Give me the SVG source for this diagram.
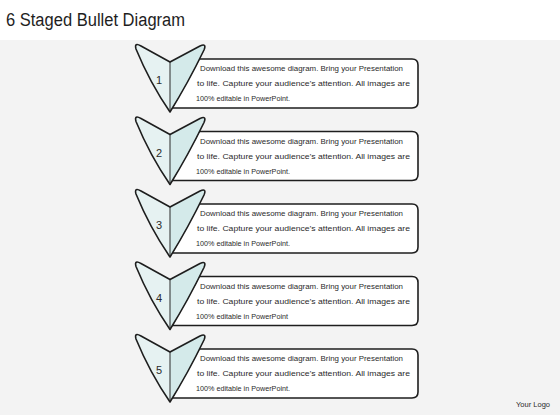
<svg xmlns="http://www.w3.org/2000/svg" xmlns:xlink="http://www.w3.org/1999/xlink" width="560" height="420" viewBox="0 0 560 420">
<style>
.bg{fill:#f3f3f3}
.box{fill:#ffffff;stroke:#1e1e1e;stroke-width:1.6;stroke-linejoin:round}
.al{fill:#e6f2f2}
.ar{fill:#d4eaea}
.ao{fill:none;stroke:#1e1e1e;stroke-width:1.6;stroke-linejoin:round}
.mid{fill:none;stroke:#2a2a2a;stroke-width:1}
.t{font-family:"Liberation Sans",Arial,sans-serif;font-size:7.4px;fill:#2a2a2a}
.n{font-family:"Liberation Sans",Arial,sans-serif;font-size:11px;fill:#2a2a2a;text-anchor:middle}
.title{font-family:"Liberation Sans",Arial,sans-serif;font-size:18px;fill:#1e1e1e}
.logo{font-family:"Liberation Sans",Arial,sans-serif;font-size:7px;fill:#2a2a2a}
</style>
<defs>
<path id="boxp" d="M199,14 H412 Q418,14 418,20 V57 Q418,63 412,63 H172 Z"/>
<path id="leftp" d="M170,17 L141,1 Q134,-3 136,4 Q150,38 170,67 Z"/>
<path id="rightp" d="M170,17 L200,1 Q207,-2 204,5 Q188,38 170,67 Z"/>
<path id="outp" d="M170,17 L141,1 Q134,-3 136,4 Q150,38 170,67 Q188,38 204,5 Q207,-2 200,1 Z"/>
</defs>
<rect x="0" y="0" width="560" height="420" fill="#ffffff"/>
<rect class="bg" x="0" y="40" width="560" height="375"/>
<text class="title" x="6" y="26" textLength="179" lengthAdjust="spacingAndGlyphs">6 Staged Bullet Diagram</text>
<g id="connectors"></g>
<g id="stage1" transform="translate(0,45)">
<use xlink:href="#boxp" class="box"/>
<use xlink:href="#leftp" class="al"/>
<use xlink:href="#rightp" class="ar"/>
<path class="mid" d="M170,17 V67"/>
<use xlink:href="#outp" class="ao"/>
<text class="n" x="159" y="39">1</text>
<text class="t" x="200" y="26" textLength="203" lengthAdjust="spacingAndGlyphs">Download this awesome diagram. Bring your Presentation</text>
<text class="t" x="197" y="41" textLength="213" lengthAdjust="spacingAndGlyphs">to life. Capture your audience’s attention. All images are</text>
<text class="t" x="196" y="56" textLength="94" lengthAdjust="spacingAndGlyphs">100% editable in PowerPoint.</text>
</g>
<g id="stage2" transform="translate(0,117.5)">
<use xlink:href="#boxp" class="box"/>
<use xlink:href="#leftp" class="al"/>
<use xlink:href="#rightp" class="ar"/>
<path class="mid" d="M170,17 V67"/>
<use xlink:href="#outp" class="ao"/>
<text class="n" x="159" y="39">2</text>
<text class="t" x="200" y="26" textLength="203" lengthAdjust="spacingAndGlyphs">Download this awesome diagram. Bring your Presentation</text>
<text class="t" x="197" y="41" textLength="213" lengthAdjust="spacingAndGlyphs">to life. Capture your audience’s attention. All images are</text>
<text class="t" x="196" y="56" textLength="94" lengthAdjust="spacingAndGlyphs">100% editable in PowerPoint.</text>
</g>
<g id="stage3" transform="translate(0,190)">
<use xlink:href="#boxp" class="box"/>
<use xlink:href="#leftp" class="al"/>
<use xlink:href="#rightp" class="ar"/>
<path class="mid" d="M170,17 V67"/>
<use xlink:href="#outp" class="ao"/>
<text class="n" x="159" y="39">3</text>
<text class="t" x="200" y="26" textLength="203" lengthAdjust="spacingAndGlyphs">Download this awesome diagram. Bring your Presentation</text>
<text class="t" x="197" y="41" textLength="213" lengthAdjust="spacingAndGlyphs">to life. Capture your audience’s attention. All images are</text>
<text class="t" x="196" y="56" textLength="94" lengthAdjust="spacingAndGlyphs">100% editable in PowerPoint.</text>
</g>
<g id="stage4" transform="translate(0,262.5)">
<use xlink:href="#boxp" class="box"/>
<use xlink:href="#leftp" class="al"/>
<use xlink:href="#rightp" class="ar"/>
<path class="mid" d="M170,17 V67"/>
<use xlink:href="#outp" class="ao"/>
<text class="n" x="159" y="39">4</text>
<text class="t" x="200" y="26" textLength="203" lengthAdjust="spacingAndGlyphs">Download this awesome diagram. Bring your Presentation</text>
<text class="t" x="197" y="41" textLength="213" lengthAdjust="spacingAndGlyphs">to life. Capture your audience’s attention. All images are</text>
<text class="t" x="196" y="56" textLength="92" lengthAdjust="spacingAndGlyphs">100% editable in PowerPoint</text>
</g>
<g id="stage5" transform="translate(0,335)">
<use xlink:href="#boxp" class="box"/>
<use xlink:href="#leftp" class="al"/>
<use xlink:href="#rightp" class="ar"/>
<path class="mid" d="M170,17 V67"/>
<use xlink:href="#outp" class="ao"/>
<text class="n" x="159" y="39">5</text>
<text class="t" x="200" y="26" textLength="203" lengthAdjust="spacingAndGlyphs">Download this awesome diagram. Bring your Presentation</text>
<text class="t" x="197" y="41" textLength="213" lengthAdjust="spacingAndGlyphs">to life. Capture your audience’s attention. All images are</text>
<text class="t" x="196" y="56" textLength="94" lengthAdjust="spacingAndGlyphs">100% editable in PowerPoint.</text>
</g>
<text class="logo" x="516" y="407" textLength="34" lengthAdjust="spacingAndGlyphs">Your Logo</text>
</svg>
